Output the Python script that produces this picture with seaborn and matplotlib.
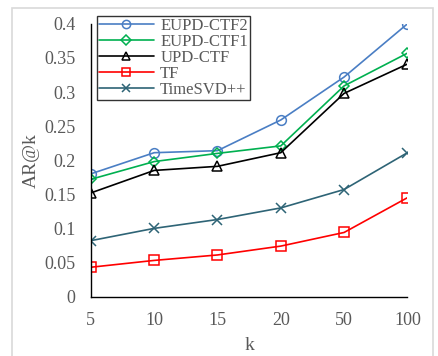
import matplotlib
matplotlib.use("Agg")
import matplotlib.pyplot as plt
import seaborn as sns
from matplotlib.patches import Rectangle
from matplotlib.ticker import FormatStrFormatter

# valores
k_labels = ["5", "10", "15", "20", "50", "100"]
eupd_ctf2 = [0.180, 0.211, 0.214, 0.259, 0.322, 0.400]
eupd_ctf1 = [0.172, 0.198, 0.210, 0.221, 0.309, 0.357]
upd_ctf = [0.152, 0.185, 0.191, 0.211, 0.298, 0.341]
tf = [0.043, 0.053, 0.061, 0.074, 0.094, 0.145]
timesvd = [0.082, 0.100, 0.113, 0.130, 0.157, 0.211]

series = [
    ("EUPD-CTF2", eupd_ctf2, "#4A7EC4", "o", 7),
    ("EUPD-CTF1", eupd_ctf1, "#00B050", "D", 5.5),
    ("UPD-CTF", upd_ctf, "black", "^", 7),
    ("TF", tf, "#FF0000", "s", 7),
    ("TimeSVD++", timesvd, "#2E6476", "x", 7),
]

sns.set_style("white")
plt.rcParams["font.family"] = ["Liberation Serif", "DejaVu Serif"]
plt.rcParams["font.size"] = 13

fig = plt.figure(figsize=(4.39, 3.56), dpi=100)
ax = fig.add_axes([0.207, 0.167, 0.721, 0.766])

for name, vals, col, mk, ms in series:
    sns.lineplot(x=k_labels, y=vals, ax=ax, sort=False, color=col, marker=mk,
                 markersize=ms, mfc="none", mec=col, mew=1.1, linewidth=1.2,
                 label=name)

ax.set_xlim(0, len(k_labels) - 1)
ax.set_ylim(0, 0.4)
ax.set_yticks([0, 0.05, 0.1, 0.15, 0.2, 0.25, 0.3, 0.35, 0.4])
ax.yaxis.set_major_formatter(FormatStrFormatter("%g"))
ax.tick_params(length=0, labelsize=13, labelcolor="#595959")
ax.tick_params(axis="x", pad=11)
ax.tick_params(axis="y", pad=11)
ax.set_xlabel("k", fontsize=14, color="#595959", labelpad=6)
ax.set_ylabel("AR@k", fontsize=14, color="#595959", labelpad=3.5)
for s in ["top", "right"]:
    ax.spines[s].set_visible(False)
for s in ["left", "bottom"]:
    ax.spines[s].set_color("black")
    ax.spines[s].set_linewidth(1.0)

leg = ax.legend(loc="upper left", bbox_to_anchor=(0.019, 1.027), fontsize=12,
                frameon=True, fancybox=False, handlelength=3.3, labelspacing=0.0,
                borderpad=0.1, handletextpad=0.4, borderaxespad=0, markerscale=0.85)
leg.get_frame().set_edgecolor("black")
leg.get_frame().set_linewidth(1.0)
for t in leg.get_texts():
    t.set_color("#595959")

fig.patches.append(Rectangle((12 / 439, -0.01), 421 / 439, 1 - 7.5 / 356 + 0.01,
                             transform=fig.transFigure, fill=False,
                             edgecolor="#D9D9D9", linewidth=1.2))

fig.savefig("out.png", dpi=100)
